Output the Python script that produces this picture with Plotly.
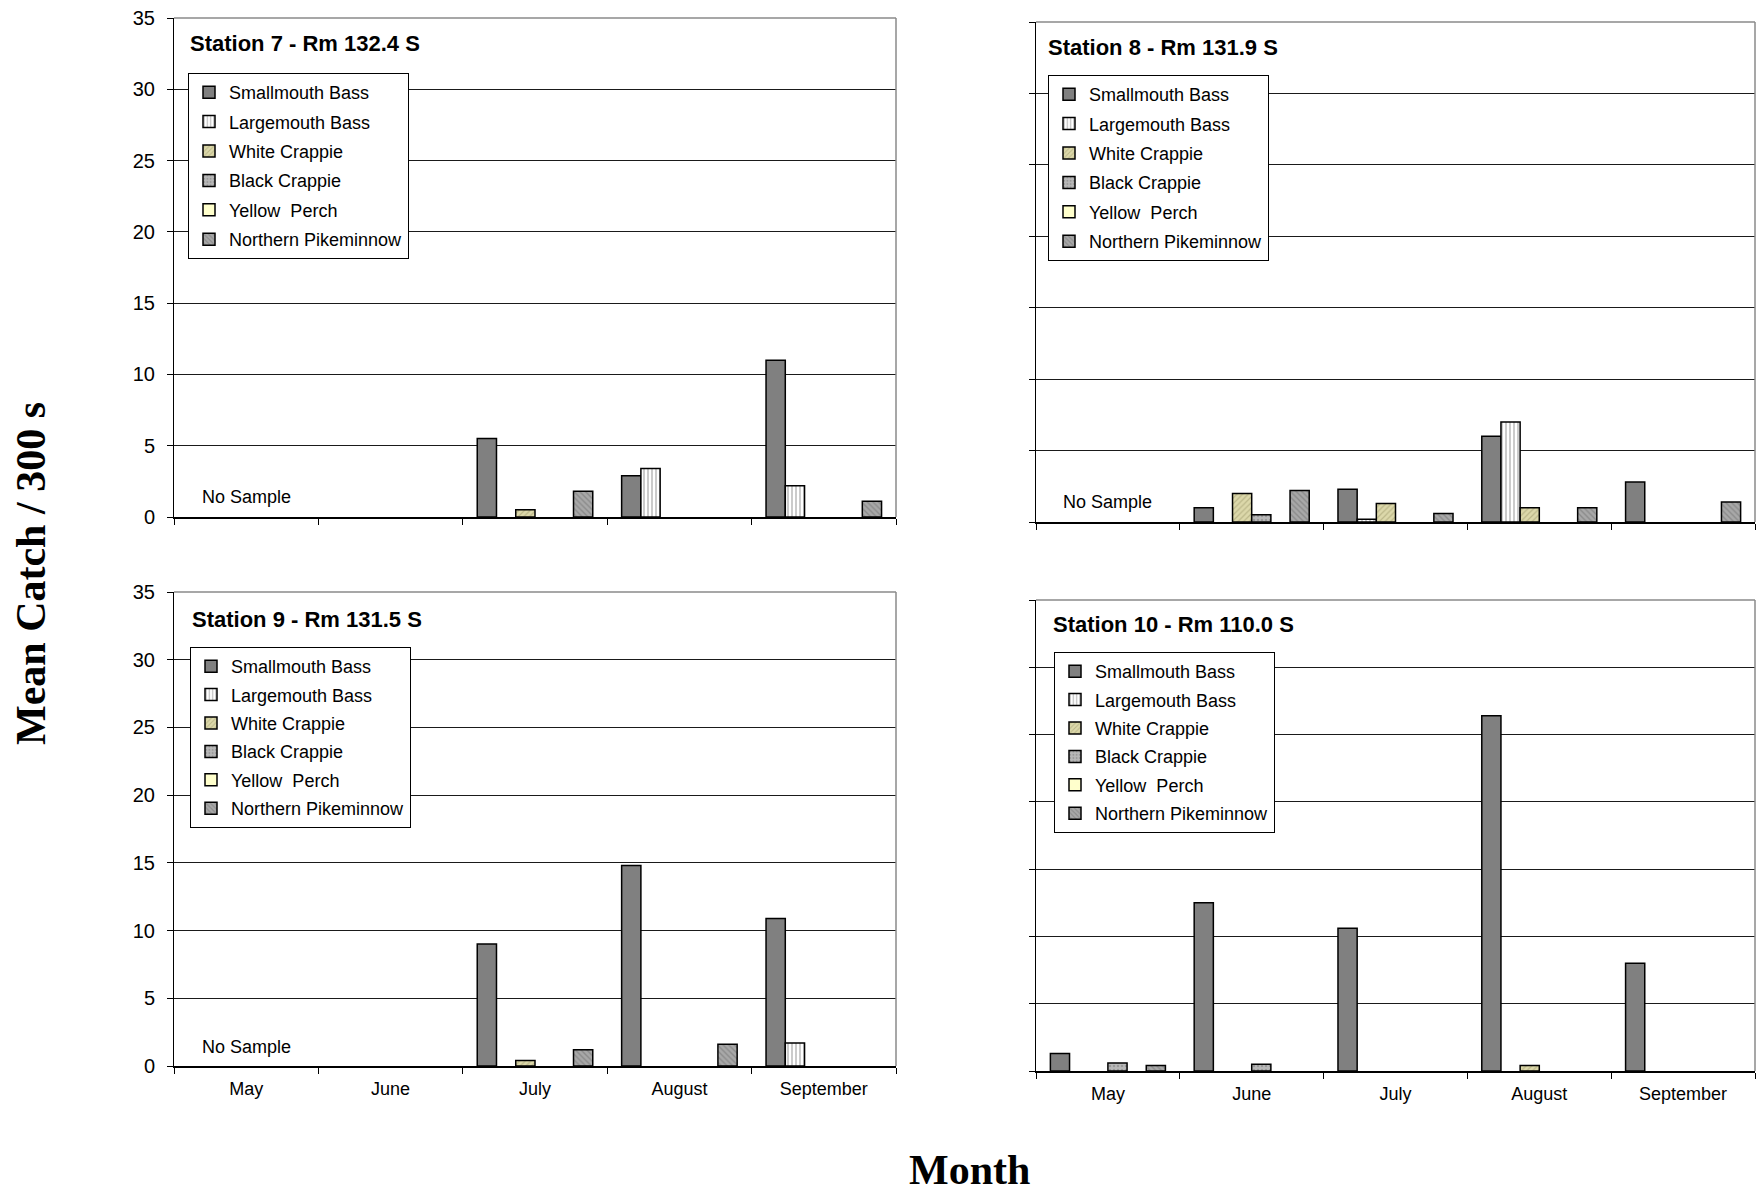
import plotly.graph_objects as go

W, H = 1756, 1196

# ---------------- data ----------------
months = ["May", "June", "July", "August", "September"]
species = ["Smallmouth Bass", "Largemouth Bass", "White Crappie",
           "Black Crappie", "Yellow\u00a0 Perch", "Northern Pikeminnow"]
station_titles = ["Station 7 - Rm 132.4 S", "Station 8 - Rm 131.9 S",
                  "Station 9 - Rm 131.5 S", "Station 10 - Rm 110.0 S"]
y_ticks = [0, 5, 10, 15, 20, 25, 30, 35]

# Station 7 (None = no sample)
s7_smallmouth = [None, 0, 5.5, 2.9, 11.0]
s7_largemouth = [None, 0, 0, 3.4, 2.2]
s7_white_crappie = [None, 0, 0.5, 0, 0]
s7_black_crappie = [None, 0, 0, 0, 0]
s7_yellow_perch = [None, 0, 0, 0, 0]
s7_pikeminnow = [None, 0, 1.8, 0, 1.1]

# Station 8
s8_smallmouth = [None, 1.0, 2.3, 6.0, 2.8]
s8_largemouth = [None, 0, 0.2, 7.0, 0]
s8_white_crappie = [None, 2.0, 1.3, 1.0, 0]
s8_black_crappie = [None, 0.5, 0, 0, 0]
s8_yellow_perch = [None, 0, 0, 0, 0]
s8_pikeminnow = [None, 2.2, 0.6, 1.0, 1.4]

# Station 9
s9_smallmouth = [None, 0, 9.0, 14.8, 10.9]
s9_largemouth = [None, 0, 0, 0, 1.7]
s9_white_crappie = [None, 0, 0.4, 0, 0]
s9_black_crappie = [None, 0, 0, 0, 0]
s9_yellow_perch = [None, 0, 0, 0, 0]
s9_pikeminnow = [None, 0, 1.2, 1.6, 0]

# Station 10
s10_smallmouth = [1.3, 12.5, 10.6, 26.4, 8.0]
s10_largemouth = [0, 0, 0, 0, 0]
s10_white_crappie = [0, 0, 0, 0.4, 0]
s10_black_crappie = [0.6, 0.5, 0, 0, 0]
s10_yellow_perch = [0, 0, 0, 0, 0]
s10_pikeminnow = [0.4, 0, 0, 0, 0]

station_data = [
    [s7_smallmouth, s7_largemouth, s7_white_crappie, s7_black_crappie, s7_yellow_perch, s7_pikeminnow],
    [s8_smallmouth, s8_largemouth, s8_white_crappie, s8_black_crappie, s8_yellow_perch, s8_pikeminnow],
    [s9_smallmouth, s9_largemouth, s9_white_crappie, s9_black_crappie, s9_yellow_perch, s9_pikeminnow],
    [s10_smallmouth, s10_largemouth, s10_white_crappie, s10_black_crappie, s10_yellow_perch, s10_pikeminnow],
]
no_sample = [True, True, True, False]

# ---------------- styles ----------------
SANS = "Arial, 'Liberation Sans', sans-serif"
SERIF = "'Times New Roman', 'Liberation Serif', serif"

species_style = [
    dict(color="#808080"),
    dict(color="#ffffff", pattern=dict(shape="|", fgcolor="#8c8c8c", bgcolor="#ffffff", size=4, solidity=0.45)),
    dict(color="#dcd8aa", pattern=dict(shape="/", fgcolor="#9a9668", bgcolor="#dcd8aa", size=4, solidity=0.3)),
    dict(color="#b4b4b4", pattern=dict(shape=".", fgcolor="#7a7a7a", bgcolor="#b8b8b8", size=4, solidity=0.3)),
    dict(color="#ffffcc"),
    dict(color="#a6a6a6", pattern=dict(shape="\\", fgcolor="#6e6e6e", bgcolor="#a8a8a8", size=4, solidity=0.35)),
]

# pixel boxes: (left, right, top, bottom)
panels = [
    (174, 896, 18, 517),
    (1036, 1755, 22, 522),
    (174, 896, 592, 1066),
    (1036, 1755, 600, 1071),
]
title_pos = [(188, 44), (1046, 47), (190, 619), (1051, 624)]
legend_pos = [(188, 73, 3), (1048, 75, 3), (190, 647, 2), (1054, 652, 2)]


def px_x(p):
    return p / W


def px_y(p):
    return 1 - p / H


def drawn(vals):
    # absent catches (0) are not drawn as bars
    return [v if v else None for v in vals]


fig = go.Figure()
annotations = []
shapes = []
layout = {}

for i, (title, data) in enumerate(zip(station_titles, station_data)):
    n = "" if i == 0 else str(i + 1)
    xa, ya = "x" + n, "y" + n
    leg = "legend" + n
    l, r, t, b = panels[i]
    bottom_row = i >= 2
    left_col = i % 2 == 0

    for k, (name, vals) in enumerate(zip(species, data)):
        fig.add_trace(go.Bar(
            x=months, y=drawn(vals), name=name, xaxis=xa, yaxis=ya,
            legend=leg, legendgroup=f"{i}_{k}",
            marker=dict(line=dict(color="black", width=1.5), **species_style[k]),
        ))

    layout["xaxis" + n] = dict(
        domain=[px_x(l), px_x(r)], anchor=ya, type="category",
        categoryorder="array", categoryarray=months, range=[-0.5, 4.5],
        showline=True, linecolor="black", linewidth=1.5,
        ticks="outside", tickson="boundaries", ticklen=6, tickcolor="black",
        showgrid=False, showticklabels=bottom_row, automargin=False,
        tickfont=dict(family=SANS, size=18, color="black"),
        ticklabelstandoff=6,
    )
    layout["yaxis" + n] = dict(
        domain=[px_y(b), px_y(t)], anchor=xa, range=[0, 35],
        tickvals=y_ticks, showline=True, linecolor="black", linewidth=1,
        ticks="outside", ticklen=6, tickcolor="black",
        showgrid=True, gridcolor="#1a1a1a", gridwidth=1, zeroline=False,
        showticklabels=left_col, automargin=False,
        tickfont=dict(family=SANS, size=20, color="black"),
        ticklabelstandoff=8,
    )
    lx, ly, gap = legend_pos[i]
    layout[leg] = dict(
        x=px_x(lx), y=px_y(ly), xanchor="left", yanchor="top",
        bgcolor="white", bordercolor="black", borderwidth=1,
        font=dict(family=SANS, size=18, color="black"),
        tracegroupgap=gap, itemwidth=30, traceorder="grouped",
    )
    tx, tyy = title_pos[i]
    annotations.append(dict(
        text=title, xref="paper", yref="paper", x=px_x(tx), y=px_y(tyy),
        xanchor="left", yanchor="middle", showarrow=False,
        font=dict(family=SANS, size=22, color="black", weight="bold"),
    ))
    if no_sample[i]:
        annotations.append(dict(
            text="No Sample", xref=xa, yref=ya, x="May", y=1.4,
            xanchor="center", yanchor="middle", showarrow=False,
            font=dict(family=SANS, size=18, color="black"),
        ))
    # gray frame on top and right
    shapes.append(dict(type="line", xref="paper", yref="paper",
                       x0=px_x(l), x1=px_x(r), y0=px_y(t), y1=px_y(t),
                       line=dict(color="#8a8a8a", width=1.5), layer="above"))
    shapes.append(dict(type="line", xref="paper", yref="paper",
                       x0=px_x(r), x1=px_x(r), y0=px_y(b), y1=px_y(t),
                       line=dict(color="#8a8a8a", width=1.5), layer="above"))

annotations.append(dict(
    text="Mean Catch / 300 s", xref="paper", yref="paper",
    x=px_x(31), y=px_y(574), textangle=-90, showarrow=False,
    xanchor="center", yanchor="middle",
    font=dict(family=SERIF, size=42, color="black", weight="bold"),
))
annotations.append(dict(
    text="Month", xref="paper", yref="paper",
    x=px_x(969), y=px_y(1170), showarrow=False,
    xanchor="center", yanchor="middle",
    font=dict(family=SERIF, size=42, color="black", weight="bold"),
))

fig.update_layout(
    width=W, height=H, margin=dict(l=0, r=0, t=0, b=0, autoexpand=False),
    paper_bgcolor="white", plot_bgcolor="white",
    barmode="group", bargap=0.2, bargroupgap=0,
    annotations=annotations, shapes=shapes, showlegend=True,
    **layout,
)

fig.write_html(
    "out.html",
    config={"displayModeBar": False, "responsive": False},
    post_script="document.body.style.margin='0';document.body.style.overflow='hidden';",
)
